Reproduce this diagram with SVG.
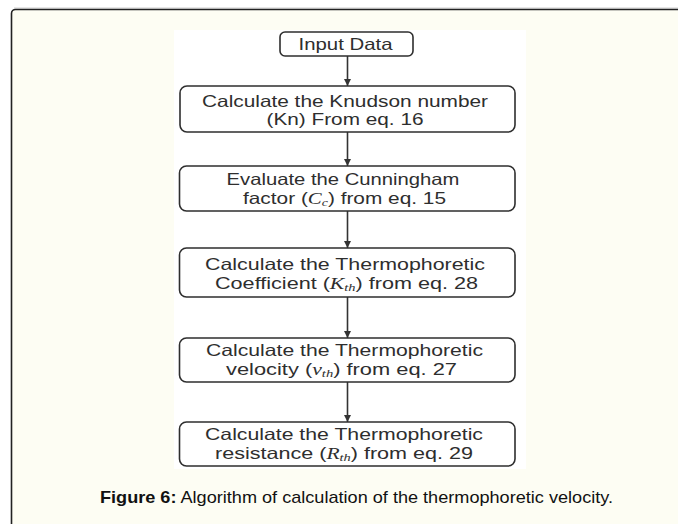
<svg xmlns="http://www.w3.org/2000/svg" width="678" height="524" viewBox="0 0 678 524">
<style>
.box{fill:#ffffff;stroke:#2e2e2e;stroke-width:1.6}
.t{font-family:"Liberation Sans",Arial,sans-serif;font-size:16.5px;fill:#2e2e2e;text-anchor:middle}
.m{font-family:"Liberation Serif",serif;font-style:italic}
.s{font-size:11px}
.conn{stroke:#333333;stroke-width:1.6;fill:none;marker-end:url(#ah)}
.cap{font-family:"Liberation Sans",Arial,sans-serif;font-size:17px;fill:#111111}
</style>
<defs>
<marker id="ah" markerUnits="userSpaceOnUse" markerWidth="8" markerHeight="8" refX="7" refY="4" orient="auto">
<path d="M0,0.5 L7,4 L0,7.5 z" fill="#333333"/>
</marker>
</defs>
<rect x="0" y="0" width="678" height="524" fill="#ffffff"/>
<line x1="14" y1="8" x2="678" y2="8" stroke="#cfcfcf" stroke-width="1"/>
<rect x="11.5" y="9.5" width="700" height="600" rx="4" fill="#fdfdf3" stroke="#222222" stroke-width="1.6"/>
<rect x="174" y="30" width="352" height="439" fill="#ffffff"/>

<g id="connectors">
<line class="conn" x1="347.5" y1="56" x2="347.5" y2="86"/>
<line class="conn" x1="347.5" y1="132" x2="347.5" y2="166"/>
<line class="conn" x1="347.5" y1="211" x2="347.5" y2="248"/>
<line class="conn" x1="347.5" y1="297" x2="347.5" y2="338"/>
<line class="conn" x1="347.5" y1="382" x2="347.5" y2="422"/>
</g>

<g id="n1">
<rect class="box" x="280" y="32" width="133" height="24" rx="5"/>
<text class="t" x="345.5" y="50" textLength="94" lengthAdjust="spacingAndGlyphs">Input Data</text>
</g>
<g id="n2">
<rect class="box" x="180" y="86" width="335" height="46" rx="7"/>
<text class="t" x="345" y="106.5" textLength="286" lengthAdjust="spacingAndGlyphs">Calculate the Knudson number</text>
<text class="t" x="345" y="125" textLength="157" lengthAdjust="spacingAndGlyphs">(Kn) From eq. 16</text>
</g>
<g id="n3">
<rect class="box" x="179.5" y="166" width="335.5" height="45" rx="7"/>
<text class="t" x="343" y="185" textLength="233" lengthAdjust="spacingAndGlyphs">Evaluate the Cunningham</text>
<text class="t" x="344.5" y="204" textLength="203" lengthAdjust="spacingAndGlyphs">factor (<tspan class="m">C</tspan><tspan class="m s" baseline-shift="-2">c</tspan>) from eq. 15</text>
</g>
<g id="n4">
<rect class="box" x="179.5" y="248" width="335.5" height="49" rx="7"/>
<text class="t" x="345" y="270" textLength="280" lengthAdjust="spacingAndGlyphs">Calculate the Thermophoretic</text>
<text class="t" x="346.5" y="289" textLength="263" lengthAdjust="spacingAndGlyphs">Coefficient (<tspan class="m">K</tspan><tspan class="m s" baseline-shift="-2">th</tspan>) from eq. 28</text>
</g>
<g id="n5">
<rect class="box" x="179.5" y="338" width="335.5" height="44" rx="7"/>
<text class="t" x="344.5" y="355.5" textLength="277" lengthAdjust="spacingAndGlyphs">Calculate the Thermophoretic</text>
<text class="t" x="341.5" y="374.5" textLength="231" lengthAdjust="spacingAndGlyphs">velocity (<tspan class="m">v</tspan><tspan class="m s" baseline-shift="-2">th</tspan>) from eq. 27</text>
</g>
<g id="n6">
<rect class="box" x="179.5" y="422" width="335.5" height="44" rx="7"/>
<text class="t" x="344" y="439.5" textLength="278" lengthAdjust="spacingAndGlyphs">Calculate the Thermophoretic</text>
<text class="t" x="344" y="458.5" textLength="258" lengthAdjust="spacingAndGlyphs">resistance (<tspan class="m">R</tspan><tspan class="m s" baseline-shift="-2">th</tspan>) from eq. 29</text>
</g>

<text class="cap" x="100" y="503" textLength="513" lengthAdjust="spacingAndGlyphs"><tspan font-weight="bold">Figure 6:</tspan> Algorithm of calculation of the thermophoretic velocity.</text>
</svg>
